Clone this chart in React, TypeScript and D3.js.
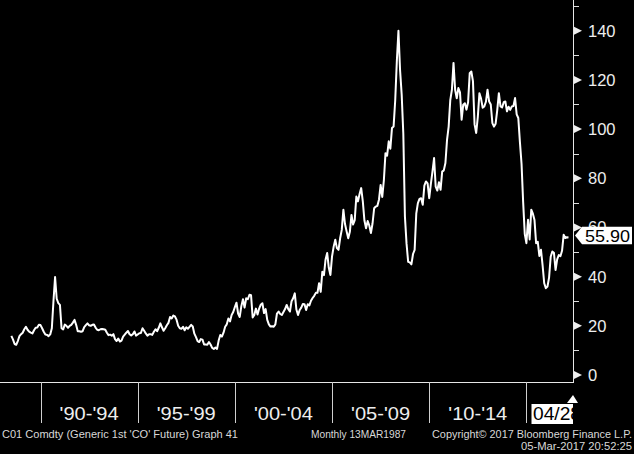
import React from "react";
import * as d3 from "d3";

// Monthly Brent (C01 Comdty) closes, Jul 1988 .. Mar 2017
const p1988 = [15.9, 14.5, 12.6, 12.3, 13.8, 15.8]; // Jul-Dec
const p1989 = [16.6, 17.2, 18.6, 19.6, 18.4, 17.6, 17.2, 16.9, 18.2, 19.2, 19.3, 20.4];
const p1990 = [20.3, 19.0, 17.6, 16.5, 16.3, 15.8, 16.5, 19.0, 30.0, 39.8, 31.0, 29.2];
const p1991 = [28.5, 19.0, 18.5, 20.5, 20.0, 19.2, 20.0, 20.4, 21.3, 22.4, 20.4, 17.8];
const p1992 = [17.8, 17.6, 17.8, 19.5, 20.3, 21.0, 20.2, 20.0, 20.4, 20.5, 19.3, 18.4];
const p1993 = [18.2, 18.6, 18.7, 18.6, 18.4, 17.2, 16.2, 16.4, 16.0, 16.6, 14.6, 13.8];
const p1994 = [14.8, 13.6, 14.0, 15.6, 16.4, 17.2, 17.9, 16.6, 16.1, 16.6, 17.7, 16.0];
const p1995 = [16.5, 17.0, 17.1, 19.0, 18.0, 16.9, 16.0, 16.6, 16.6, 16.3, 17.6, 18.6];
const p1996 = [17.8, 19.2, 21.0, 19.4, 18.0, 19.0, 20.2, 21.2, 23.6, 23.0, 24.2, 23.8];
const p1997 = [22.5, 20.0, 19.0, 18.8, 19.6, 18.2, 19.4, 18.8, 19.6, 20.4, 19.7, 16.8];
const p1998 = [15.4, 13.8, 13.4, 14.6, 14.4, 12.4, 12.4, 12.3, 13.4, 12.4, 11.0, 10.6];
const p1999 = [11.2, 10.6, 14.0, 16.3, 15.6, 17.2, 19.6, 20.6, 23.0, 21.8, 24.4, 25.6];
const p2000 = [27.6, 29.4, 25.0, 23.6, 28.0, 30.8, 27.4, 31.2, 30.8, 32.6, 32.4, 23.4];
const p2001 = [24.4, 27.0, 24.6, 27.0, 28.6, 29.2, 25.2, 26.8, 22.4, 20.6, 19.7, 19.8];
const p2002 = [19.6, 20.6, 25.0, 25.8, 24.8, 24.4, 25.6, 26.8, 28.5, 26.8, 25.8, 30.0];
const p2003 = [31.2, 33.2, 26.6, 24.4, 26.4, 27.4, 28.9, 28.8, 26.4, 28.8, 28.3, 30.2];
const p2004 = [31.3, 32.2, 33.4, 33.4, 37.3, 33.8, 42.0, 40.6, 47.0, 49.6, 43.6, 40.7];
const p2005 = [48.2, 52.2, 55.0, 51.6, 50.9, 55.6, 59.0, 67.2, 61.4, 58.4, 55.6, 58.2];
const p2006 = [65.1, 61.2, 63.0, 72.6, 70.6, 73.6, 76.0, 70.6, 62.8, 59.7, 62.6, 60.8];
const p2007 = [57.7, 61.6, 67.8, 68.5, 68.8, 71.4, 77.3, 72.4, 79.2, 90.2, 89.2, 95.0];
const p2008 = [92.0, 100.4, 101.0, 111.6, 127.6, 140.0, 124.0, 114.0, 98.2, 64.4, 53.4, 46.0];
const p2009 = [45.8, 45.0, 49.2, 50.9, 65.6, 69.9, 71.6, 71.9, 69.2, 77.0, 78.7, 77.9];
const p2010 = [71.9, 77.6, 82.7, 88.2, 76.6, 75.0, 78.4, 75.3, 82.7, 83.2, 86.2, 95.6];
const p2011 = [101.0, 111.8, 116.0, 126.9, 116.0, 112.5, 116.7, 114.9, 103.8, 109.9, 110.5, 107.9];
const p2012 = [110.9, 122.7, 123.4, 119.5, 101.9, 98.4, 104.9, 114.6, 112.4, 108.7, 109.2, 111.1];
const p2013 = [116.0, 111.2, 110.0, 102.4, 101.0, 102.2, 107.7, 114.6, 109.2, 108.8, 110.9, 111.2];
const p2014 = [107.2, 109.1, 107.8, 109.2, 109.4, 112.6, 106.0, 104.5, 94.7, 85.9, 70.2, 57.3];
const p2015 = [53.6, 63.1, 55.1, 67.2, 65.6, 63.0, 53.6, 54.2, 48.4, 50.9, 44.6, 37.3];
const p2016 = [35.3, 36.0, 39.6, 48.1, 50.2, 49.7, 42.7, 47.0, 48.8, 48.3, 50.5, 57.0];
const p2017 = [55.7, 56.0, 55.9];

const prices: number[] = [
  ...p1988, ...p1989, ...p1990, ...p1991, ...p1992, ...p1993, ...p1994, ...p1995,
  ...p1996, ...p1997, ...p1998, ...p1999, ...p2000, ...p2001, ...p2002, ...p2003,
  ...p2004, ...p2005, ...p2006, ...p2007, ...p2008, ...p2009, ...p2010, ...p2011,
  ...p2012, ...p2013, ...p2014, ...p2015, ...p2016, ...p2017,
];
const firstYear = 1988;
const firstMonth = 6; // July

const yTicks = [0, 20, 40, 60, 80, 100, 120, 140];
const yMinorTicks = [10, 30, 50, 70, 90, 110, 130, 150];
const periodStarts = [1990, 1995, 2000, 2005, 2010, 2015];
const periodLabels = ["'90-'94", "'95-'99", "'00-'04", "'05-'09", "'10-'14"];
const partialLabel = "04/28";
const lastValueText = "55.90";
const lastValue = 55.9;
const footerLeft = "C01 Comdty (Generic 1st 'CO' Future) Graph 41";
const footerMid = "Monthly 13MAR1987";
const footerRight1 = "Copyright\u00A9 2017 Bloomberg Finance L.P.";
const footerRight2 = "05-Mar-2017 20:52:25";

const W = 634;
const H = 454;
const axisX = 573;
const axisY = 382;
const FONT = "'Liberation Sans', Arial, sans-serif";

export default function App() {
  const x = d3.scaleLinear().domain([1990, 2015]).range([40.5, 526.4]);
  const y = d3.scaleLinear().domain([0, 140]).range([375, 30.7]);

  const line = d3
    .line<number>()
    .x((_, i) => x(firstYear + (firstMonth + i) / 12))
    .y((d) => y(d));

  const yv = y(lastValue) - 2;

  return (
    <svg
      width={W}
      height={H}
      style={{ position: "absolute", left: 0, top: 0, display: "block" }}
      fontFamily={FONT}
    >
      <defs>
        <clipPath id="plot">
          <rect x={0} y={0} width={axisX} height={axisY} />
        </clipPath>
        <clipPath id="partial">
          <rect x={530} y={400} width={axisX - 530} height={30} />
        </clipPath>
      </defs>
      <rect x={0} y={0} width={W} height={H} fill="#000" />

      {/* price line */}
      <path
        d={line(prices) || ""}
        fill="none"
        stroke="#fff"
        strokeWidth={2}
        strokeLinejoin="round"
        clipPath="url(#plot)"
      />

      {/* frame */}
      <line x1={0} y1={axisY + 0.5} x2={axisX} y2={axisY + 0.5} stroke="#e6e6e6" strokeWidth={1} />
      <line x1={axisX + 0.5} y1={0} x2={axisX + 0.5} y2={axisY + 1} stroke="#e6e6e6" strokeWidth={1} />

      {/* y axis ticks */}
      {yMinorTicks.map((t) => (
        <line key={"m" + t} x1={axisX + 1} x2={axisX + 6} y1={Math.round(y(t)) + 0.5} y2={Math.round(y(t)) + 0.5} stroke="#ddd" strokeWidth={1} />
      ))}
      {yTicks.map((t) => (
        <g key={"t" + t}>
          <polygon
            points={`${axisX + 1},${y(t) - 4} ${axisX + 1},${y(t) + 4} ${axisX + 9},${y(t)}`}
            fill="#eee"
          />
          <text x={588} y={y(t) + 6} fontSize={16.5} fill="#eee">
            {t}
          </text>
        </g>
      ))}

      {/* last value label */}
      <polygon
        points={`${axisX + 2},${yv} ${582},${yv - 8.8} ${632},${yv - 8.8} ${632},${yv + 8.8} ${582},${yv + 8.8}`}
        fill="#fff"
      />
      <text x={585} y={yv + 6} fontSize={16} fill="#000" textLength={45} lengthAdjust="spacingAndGlyphs">
        {lastValueText}
      </text>

      {/* x axis separators & labels */}
      {periodStarts.map((s) => (
        <line key={"s" + s} x1={Math.round(x(s)) + 0.5} x2={Math.round(x(s)) + 0.5} y1={axisY} y2={423} stroke="#cfcfcf" strokeWidth={1} />
      ))}
      {periodLabels.map((lab, i) => (
        <text
          key={lab}
          x={(x(periodStarts[i]) + x(periodStarts[i + 1])) / 2}
          y={420}
          fontSize={18.5}
          fill="#eee"
          textAnchor="middle"
          textLength={59}
          lengthAdjust="spacingAndGlyphs"
        >
          {lab}
        </text>
      ))}
      <rect x={531.5} y={404} width={axisX - 531.5} height={20} fill="#fff" />
      <text x={533} y={420} fontSize={18.5} fill="#000" clipPath="url(#partial)" textLength={48} lengthAdjust="spacingAndGlyphs">
        {partialLabel}
      </text>
      <polygon points={`567,403 578,403 573,395`} fill="#fff" />

      {/* footer */}
      <text x={2} y={437.5} fontSize={11} fill="#d8d8d8" textLength={236} lengthAdjust="spacingAndGlyphs">
        {footerLeft}
      </text>
      <text x={311} y={437.5} fontSize={11} fill="#d8d8d8" textLength={95} lengthAdjust="spacingAndGlyphs">
        {footerMid}
      </text>
      <text x={432} y={437.5} fontSize={11} fill="#d8d8d8" textLength={200} lengthAdjust="spacingAndGlyphs">
        {footerRight1}
      </text>
      <text x={521} y={450} fontSize={11} fill="#d8d8d8" textLength={111} lengthAdjust="spacingAndGlyphs">
        {footerRight2}
      </text>
    </svg>
  );
}
